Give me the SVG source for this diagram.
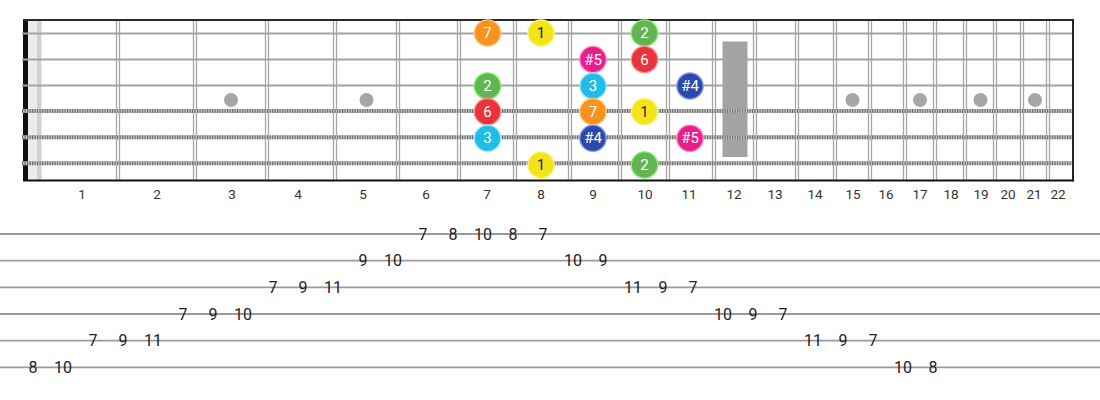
<svg xmlns="http://www.w3.org/2000/svg" width="1100" height="400" viewBox="0 0 1100 400">
<defs>
<style>
.fret{stroke:#a6a6a6;stroke-width:1.3}
.plain{stroke:#a4a4a4;stroke-width:2.2}
.woundA{stroke:#c4c4c4;stroke-width:4}
.woundB{stroke:#707070;stroke-width:4;stroke-dasharray:1.2 1.3}
.dot{fill:#a6a6a6}
.fnum{font-family:Roboto,"Liberation Sans",sans-serif;font-size:13.5px;fill:#333;text-anchor:middle}
.tabl{stroke:#9a9a9a;stroke-width:1.8}
.tabn{font-family:Roboto,"Liberation Sans",sans-serif;font-size:16px;fill:#222;text-anchor:middle;dominant-baseline:central}
.nt{font-family:Roboto,"Liberation Sans",sans-serif;font-size:15px;fill:#fff;text-anchor:middle;dominant-baseline:central}
.nt.dk{fill:#222}
.c{stroke-width:1.3}
.or{fill:#f7941e;stroke:#fcc887}
.ye{fill:#f3e41a;stroke:#fbf48c}
.gr{fill:#62b550;stroke:#7ef26e}
.rd{fill:#e8343a;stroke:#ff8f8f}
.mg{fill:#e91e8c;stroke:#ff86c4}
.cy{fill:#1fbde8;stroke:#a4e9ff}
.bl{fill:#2c4aab;stroke:#8ea2f5}
</style>
</defs>
<g id="fretboard">
<rect x="23" y="20" width="1050" height="161" fill="#fff"/>
<rect x="28" y="20" width="9" height="161" fill="#ececec"/>
<rect x="37" y="20" width="4.5" height="161" fill="#d2d2d2"/>
<g id="frets">
<line class="fret" x1="116.5" y1="20" x2="116.5" y2="180"/><line class="fret" x1="119.5" y1="20" x2="119.5" y2="180"/>
<line class="fret" x1="193.5" y1="20" x2="193.5" y2="180"/><line class="fret" x1="196.5" y1="20" x2="196.5" y2="180"/>
<line class="fret" x1="265.5" y1="20" x2="265.5" y2="180"/><line class="fret" x1="268.5" y1="20" x2="268.5" y2="180"/>
<line class="fret" x1="333.5" y1="20" x2="333.5" y2="180"/><line class="fret" x1="336.5" y1="20" x2="336.5" y2="180"/>
<line class="fret" x1="396.5" y1="20" x2="396.5" y2="180"/><line class="fret" x1="399.5" y1="20" x2="399.5" y2="180"/>
<line class="fret" x1="457.5" y1="20" x2="457.5" y2="180"/><line class="fret" x1="460.5" y1="20" x2="460.5" y2="180"/>
<line class="fret" x1="513.5" y1="20" x2="513.5" y2="180"/><line class="fret" x1="516.5" y1="20" x2="516.5" y2="180"/>
<line class="fret" x1="568.5" y1="20" x2="568.5" y2="180"/><line class="fret" x1="571.5" y1="20" x2="571.5" y2="180"/>
<line class="fret" x1="618.5" y1="20" x2="618.5" y2="180"/><line class="fret" x1="621.5" y1="20" x2="621.5" y2="180"/>
<line class="fret" x1="666.5" y1="20" x2="666.5" y2="180"/><line class="fret" x1="669.5" y1="20" x2="669.5" y2="180"/>
<line class="fret" x1="712.5" y1="20" x2="712.5" y2="180"/><line class="fret" x1="715.5" y1="20" x2="715.5" y2="180"/>
<line class="fret" x1="753.5" y1="20" x2="753.5" y2="180"/><line class="fret" x1="756.5" y1="20" x2="756.5" y2="180"/>
<line class="fret" x1="795.5" y1="20" x2="795.5" y2="180"/><line class="fret" x1="798.5" y1="20" x2="798.5" y2="180"/>
<line class="fret" x1="833.5" y1="20" x2="833.5" y2="180"/><line class="fret" x1="836.5" y1="20" x2="836.5" y2="180"/>
<line class="fret" x1="868.5" y1="20" x2="868.5" y2="180"/><line class="fret" x1="871.5" y1="20" x2="871.5" y2="180"/>
<line class="fret" x1="903.5" y1="20" x2="903.5" y2="180"/><line class="fret" x1="906.5" y1="20" x2="906.5" y2="180"/>
<line class="fret" x1="933.5" y1="20" x2="933.5" y2="180"/><line class="fret" x1="936.5" y1="20" x2="936.5" y2="180"/>
<line class="fret" x1="963.5" y1="20" x2="963.5" y2="180"/><line class="fret" x1="966.5" y1="20" x2="966.5" y2="180"/>
<line class="fret" x1="993.5" y1="20" x2="993.5" y2="180"/><line class="fret" x1="996.5" y1="20" x2="996.5" y2="180"/>
<line class="fret" x1="1020.5" y1="20" x2="1020.5" y2="180"/><line class="fret" x1="1023.5" y1="20" x2="1023.5" y2="180"/>
<line class="fret" x1="1046.5" y1="20" x2="1046.5" y2="180"/><line class="fret" x1="1049.5" y1="20" x2="1049.5" y2="180"/>
</g>
<g id="markers">
<circle class="dot" cx="231" cy="100" r="7"/>
<circle class="dot" cx="366.5" cy="100" r="7"/>
<circle class="dot" cx="852.5" cy="100" r="7"/>
<circle class="dot" cx="920" cy="100" r="7"/>
<circle class="dot" cx="980.5" cy="100" r="7"/>
<circle class="dot" cx="1035" cy="100" r="7"/>
<rect x="722.5" y="41.5" width="25" height="115.5" fill="#a3a3a3"/>
</g>
<rect x="23" y="20" width="5" height="161" fill="#111"/>
<g id="strings">
<line class="plain" x1="22" y1="33.5" x2="1073" y2="33.5"/>
<line class="plain" x1="22" y1="59.5" x2="1073" y2="59.5"/>
<line class="plain" x1="22" y1="85.5" x2="1073" y2="85.5"/>
<line class="woundA" x1="22" y1="111" x2="1073" y2="111"/>
<line class="woundB" x1="22" y1="111" x2="1073" y2="111"/>
<line class="woundA" x1="22" y1="137.3" x2="1073" y2="137.3"/>
<line class="woundB" x1="22" y1="137.3" x2="1073" y2="137.3"/>
<line class="woundA" x1="22" y1="163.3" x2="1073" y2="163.3"/>
<line class="woundB" x1="22" y1="163.3" x2="1073" y2="163.3"/>
</g>
<line x1="23" y1="20" x2="1074" y2="20" stroke="#2a2a2a" stroke-width="2"/>
<line x1="23" y1="180.5" x2="1074" y2="180.5" stroke="#111" stroke-width="2"/>
<line x1="1073" y1="19" x2="1073" y2="181.5" stroke="#222" stroke-width="2"/>
</g>
<g id="connectors"></g>
<g id="notes">
<g id="n1"><circle class="c or" cx="487.5" cy="33" r="13.2"/><text class="nt" x="487.5" y="33">7</text></g>
<g id="n2"><circle class="c ye" cx="541" cy="33" r="13.2"/><text class="nt dk" x="541" y="33">1</text></g>
<g id="n3"><circle class="c gr" cx="644.5" cy="33" r="13.2"/><text class="nt" x="644.5" y="33">2</text></g>
<g id="n4"><circle class="c mg" cx="593" cy="59.5" r="13.2"/><text class="nt" x="593" y="59.5">#5</text></g>
<g id="n5"><circle class="c rd" cx="644.5" cy="59.5" r="13.2"/><text class="nt" x="644.5" y="59.5">6</text></g>
<g id="n6"><circle class="c gr" cx="487.5" cy="86" r="13.2"/><text class="nt" x="487.5" y="86">2</text></g>
<g id="n7"><circle class="c cy" cx="593" cy="86" r="13.2"/><text class="nt" x="593" y="86">3</text></g>
<g id="n8"><circle class="c bl" cx="690" cy="86" r="13.2"/><text class="nt" x="690" y="86">#4</text></g>
<g id="n9"><circle class="c rd" cx="487.5" cy="111.7" r="13.2"/><text class="nt" x="487.5" y="111.7">6</text></g>
<g id="n10"><circle class="c or" cx="593" cy="111.7" r="13.2"/><text class="nt" x="593" y="111.7">7</text></g>
<g id="n11"><circle class="c ye" cx="644.5" cy="111.7" r="13.2"/><text class="nt dk" x="644.5" y="111.7">1</text></g>
<g id="n12"><circle class="c cy" cx="487.5" cy="138.3" r="13.2"/><text class="nt" x="487.5" y="138.3">3</text></g>
<g id="n13"><circle class="c bl" cx="593" cy="138.3" r="13.2"/><text class="nt" x="593" y="138.3">#4</text></g>
<g id="n14"><circle class="c mg" cx="690" cy="138.3" r="13.2"/><text class="nt" x="690" y="138.3">#5</text></g>
<g id="n15"><circle class="c ye" cx="541" cy="165" r="13.2"/><text class="nt dk" x="541" y="165">1</text></g>
<g id="n16"><circle class="c gr" cx="644.5" cy="165" r="13.2"/><text class="nt" x="644.5" y="165">2</text></g>
</g>
<g id="fret-numbers">
<text class="fnum" x="82" y="199">1</text>
<text class="fnum" x="157" y="199">2</text>
<text class="fnum" x="232" y="199">3</text>
<text class="fnum" x="298" y="199">4</text>
<text class="fnum" x="363" y="199">5</text>
<text class="fnum" x="426" y="199">6</text>
<text class="fnum" x="487" y="199">7</text>
<text class="fnum" x="541" y="199">8</text>
<text class="fnum" x="593" y="199">9</text>
<text class="fnum" x="645" y="199">10</text>
<text class="fnum" x="689" y="199">11</text>
<text class="fnum" x="734" y="199">12</text>
<text class="fnum" x="775" y="199">13</text>
<text class="fnum" x="815" y="199">14</text>
<text class="fnum" x="853" y="199">15</text>
<text class="fnum" x="886" y="199">16</text>
<text class="fnum" x="920" y="199">17</text>
<text class="fnum" x="951" y="199">18</text>
<text class="fnum" x="981" y="199">19</text>
<text class="fnum" x="1008" y="199">20</text>
<text class="fnum" x="1034" y="199">21</text>
<text class="fnum" x="1058" y="199">22</text>
</g>
<g id="tab">
<line class="tabl" x1="0" y1="234" x2="1100" y2="234"/>
<line class="tabl" x1="0" y1="260.7" x2="1100" y2="260.7"/>
<line class="tabl" x1="0" y1="287.3" x2="1100" y2="287.3"/>
<line class="tabl" x1="0" y1="314" x2="1100" y2="314"/>
<line class="tabl" x1="0" y1="340.7" x2="1100" y2="340.7"/>
<line class="tabl" x1="0" y1="367.3" x2="1100" y2="367.3"/>
<text class="tabn" x="423" y="234">7</text><text class="tabn" x="453" y="234">8</text><text class="tabn" x="483" y="234">10</text><text class="tabn" x="513" y="234">8</text><text class="tabn" x="543" y="234">7</text>
<text class="tabn" x="363" y="260.7">9</text><text class="tabn" x="393" y="260.7">10</text><text class="tabn" x="573" y="260.7">10</text><text class="tabn" x="603" y="260.7">9</text>
<text class="tabn" x="273" y="287.3">7</text><text class="tabn" x="303" y="287.3">9</text><text class="tabn" x="333" y="287.3">11</text><text class="tabn" x="633" y="287.3">11</text><text class="tabn" x="663" y="287.3">9</text><text class="tabn" x="693" y="287.3">7</text>
<text class="tabn" x="183" y="314">7</text><text class="tabn" x="213" y="314">9</text><text class="tabn" x="243" y="314">10</text><text class="tabn" x="723" y="314">10</text><text class="tabn" x="753" y="314">9</text><text class="tabn" x="783" y="314">7</text>
<text class="tabn" x="93" y="340.7">7</text><text class="tabn" x="123" y="340.7">9</text><text class="tabn" x="153" y="340.7">11</text><text class="tabn" x="813" y="340.7">11</text><text class="tabn" x="843" y="340.7">9</text><text class="tabn" x="873" y="340.7">7</text>
<text class="tabn" x="33" y="367.3">8</text><text class="tabn" x="63" y="367.3">10</text><text class="tabn" x="903" y="367.3">10</text><text class="tabn" x="933" y="367.3">8</text>
</g>
</svg>
